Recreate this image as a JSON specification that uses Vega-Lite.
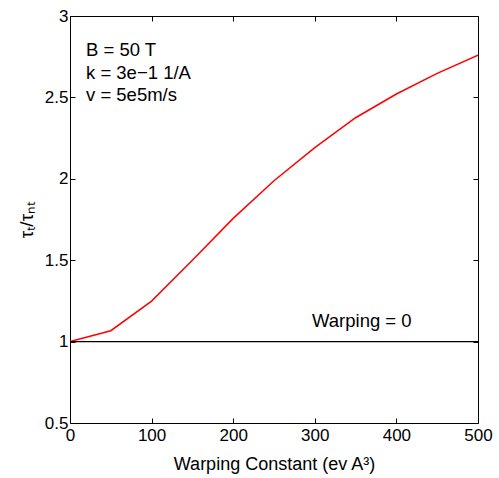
{
  "$schema": "https://vega.github.io/schema/vega-lite/v6.json",
  "width": 408,
  "height": 407,
  "autosize": {"type": "none"},
  "padding": {"left": 70, "top": 16, "right": 21, "bottom": 55},
  "background": "white",
  "config": {
    "view": {"stroke": "black", "strokeWidth": 1},
    "font": "Liberation Sans",
    "axis": {
      "labelFont": "Liberation Sans",
      "titleFont": "Liberation Sans",
      "labelFontSize": 17,
      "titleFontSize": 18,
      "labelColor": "black",
      "titleColor": "black",
      "titleFontWeight": "normal",
      "grid": false,
      "domain": false,
      "tickColor": "black",
      "tickSize": -5,
      "tickWidth": 1,
      "labelFlush": false,
      "labelPadding": 6
    }
  },
  "datasets": {
    "curve": [
      {"w": 0, "r": 1.0},
      {"w": 50, "r": 1.067},
      {"w": 100, "r": 1.249},
      {"w": 150, "r": 1.5},
      {"w": 200, "r": 1.757},
      {"w": 250, "r": 1.988},
      {"w": 300, "r": 2.191},
      {"w": 350, "r": 2.375},
      {"w": 400, "r": 2.521},
      {"w": 450, "r": 2.648},
      {"w": 500, "r": 2.76}
    ],
    "notes": [
      {"w": 19.6, "r": 2.79, "t": "B = 50 T"},
      {"w": 19.6, "r": 2.652, "t": "k = 3e\u22121 1/A"},
      {"w": 19.6, "r": 2.513, "t": "v = 5e5m/s"},
      {"w": 296.6, "r": 1.128, "t": "Warping = 0"}
    ],
    "base": [{"r": 1}]
  },
  "layer": [
    {
      "data": {"name": "curve"},
      "mark": {"type": "line", "color": "#ff0000", "strokeWidth": 1.5, "clip": true},
      "encoding": {
        "x": {
          "field": "w", "type": "quantitative",
          "scale": {"domain": [0, 500], "nice": false, "zero": false},
          "axis": {"orient": "bottom", "values": [0, 100, 200, 300, 400, 500], "title": "Warping Constant (ev A\u00b3)", "titlePadding": 12, "labelPadding": 9}
        },
        "y": {
          "field": "r", "type": "quantitative",
          "scale": {"domain": [0.5, 3], "nice": false, "zero": false},
          "axis": {"orient": "left", "values": [0.5, 1, 1.5, 2, 2.5, 3], "format": "~g", "title": "\u03c4\u209c/\u03c4\u2099\u209c", "titlePadding": 8, "labelPadding": 7, "titleFontSize": 19}
        }
      }
    },
    {
      "data": {"name": "notes"},
      "mark": {"type": "text", "align": "left", "baseline": "middle", "fontSize": 18.5, "font": "Liberation Sans", "color": "black"},
      "encoding": {
        "x": {"field": "w", "type": "quantitative", "axis": {"orient": "top", "values": [0, 100, 200, 300, 400, 500], "labels": false, "title": null}},
        "y": {"field": "r", "type": "quantitative", "axis": {"orient": "right", "values": [0.5, 1, 1.5, 2, 2.5, 3], "labels": false, "title": null}},
        "text": {"field": "t"}
      }
    },
    {
      "data": {"name": "base"},
      "mark": {"type": "rule", "color": "black", "strokeWidth": 1.2},
      "encoding": {
        "y": {"field": "r", "type": "quantitative", "axis": null}
      }
    }
  ],
  "resolve": {"axis": {"x": "independent", "y": "independent"}}
}
